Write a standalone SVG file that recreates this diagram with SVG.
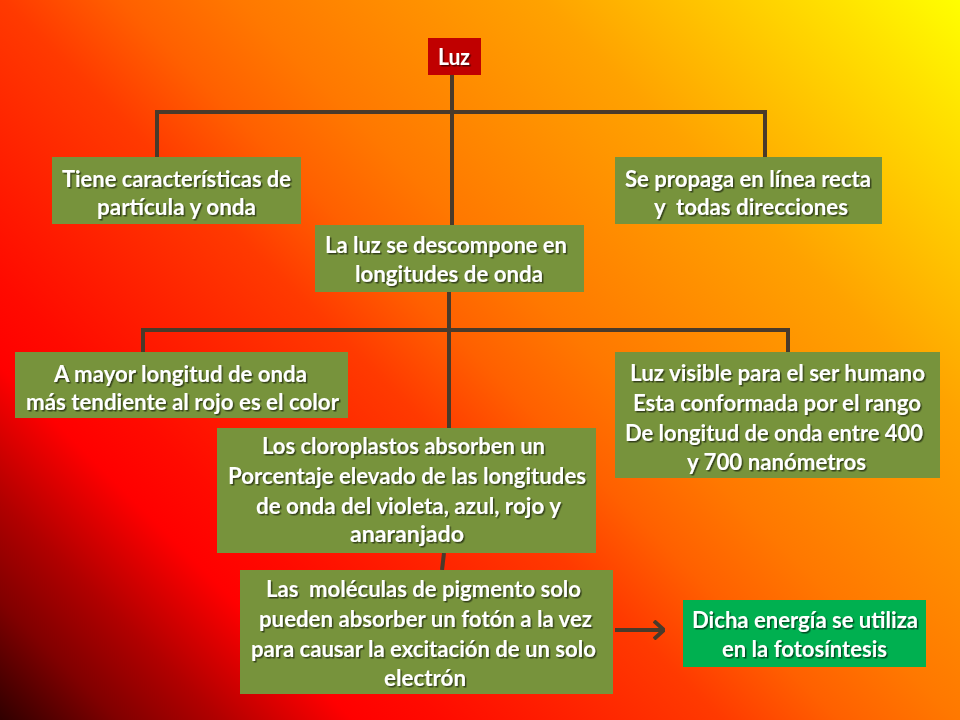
<svg xmlns="http://www.w3.org/2000/svg" width="960" height="720" viewBox="0 0 960 720">
<defs>
<linearGradient id="bg" gradientUnits="userSpaceOnUse" x1="0" y1="720" x2="840" y2="-120">
<stop offset="0" stop-color="#300000"/>
<stop offset="0.07" stop-color="#800000"/>
<stop offset="0.13" stop-color="#b00000"/>
<stop offset="0.21" stop-color="#ff0000"/>
<stop offset="0.26" stop-color="#ff0a00"/>
<stop offset="0.43" stop-color="#ff3a00"/>
<stop offset="0.5" stop-color="#ff6000"/>
<stop offset="0.57" stop-color="#ff7800"/>
<stop offset="0.75" stop-color="#ffa200"/>
<stop offset="0.92" stop-color="#ffe000"/>
<stop offset="1" stop-color="#ffff00"/>
</linearGradient>
<filter id="sh" x="-5%" y="-20%" width="110%" height="140%">
<feDropShadow dx="1.5" dy="1.5" stdDeviation="0.7" flood-color="#000" flood-opacity="0.55"/>
</filter>
<marker id="arr" viewBox="0 0 12 20" refX="11" refY="10" markerWidth="12" markerHeight="20" markerUnits="userSpaceOnUse" orient="auto">
<path d="M1,1 L11,10 L1,19" fill="none" stroke="#4a3a2a" stroke-width="4" stroke-linejoin="miter"/>
</marker>
</defs>
<style>
.box{fill:#77933c}
.t{font-family:"Lato","Liberation Sans",sans-serif;font-weight:bold;font-size:23.5px;fill:#fff;text-anchor:middle;filter:url(#sh);white-space:pre}
.c{fill:none;stroke:#4a3a2a;stroke-width:4}
</style>
<rect width="960" height="720" fill="url(#bg)"/>
<g id="connectors">
<path class="c" d="M452,75 V226"/>
<path class="c" d="M157,157 V112 H765 V157"/>
<path class="c" d="M449,292 V428"/>
<path class="c" d="M143,352 V330 H788 V352"/>
<path class="c" d="M444,553 L442,570"/>
<path class="c" d="M615,630 H664" marker-end="url(#arr)"/>
</g>
<g id="luz">
<rect x="428" y="38" width="53" height="37" fill="#c00000"/>
<text class="t" x="454" y="65" textLength="32" lengthAdjust="spacingAndGlyphs">Luz</text>
</g>
<g id="n1">
<rect class="box" x="52" y="157" width="249" height="67"/>
<text class="t" x="176.5" y="187" textLength="229" lengthAdjust="spacingAndGlyphs">Tiene características de</text>
<text class="t" x="176.5" y="215" textLength="159" lengthAdjust="spacingAndGlyphs">partícula y onda</text>
</g>
<g id="n2">
<rect class="box" x="615" y="157" width="267" height="67"/>
<text class="t" x="748" y="187" textLength="246" lengthAdjust="spacingAndGlyphs">Se propaga en línea recta</text>
<text class="t" x="751" y="215" textLength="194" lengthAdjust="spacingAndGlyphs" xml:space="preserve">y  todas direcciones</text>
</g>
<g id="n3">
<rect class="box" x="315" y="225" width="269" height="67"/>
<text class="t" x="446" y="253" textLength="242" lengthAdjust="spacingAndGlyphs">La luz se descompone en</text>
<text class="t" x="449" y="282" textLength="188" lengthAdjust="spacingAndGlyphs">longitudes de onda</text>
</g>
<g id="n4">
<rect class="box" x="15" y="352" width="333" height="66"/>
<text class="t" x="180.5" y="382" textLength="253" lengthAdjust="spacingAndGlyphs">A mayor longitud de onda</text>
<text class="t" x="182.5" y="410" textLength="313" lengthAdjust="spacingAndGlyphs">más tendiente al rojo es el color</text>
</g>
<g id="n5">
<rect class="box" x="615" y="352" width="325" height="126"/>
<text class="t" x="777.5" y="381" textLength="295" lengthAdjust="spacingAndGlyphs">Luz visible para el ser humano</text>
<text class="t" x="777" y="411" textLength="288" lengthAdjust="spacingAndGlyphs">Esta conformada por el rango</text>
<text class="t" x="774" y="441" textLength="298" lengthAdjust="spacingAndGlyphs">De longitud de onda entre 400</text>
<text class="t" x="776.5" y="470" textLength="179" lengthAdjust="spacingAndGlyphs">y 700 nanómetros</text>
</g>
<g id="n6">
<rect class="box" x="217" y="428" width="379" height="125"/>
<text class="t" x="403.5" y="454" textLength="283" lengthAdjust="spacingAndGlyphs">Los cloroplastos absorben un</text>
<text class="t" x="407" y="484" textLength="358" lengthAdjust="spacingAndGlyphs">Porcentaje elevado de las longitudes</text>
<text class="t" x="408.5" y="514" textLength="305" lengthAdjust="spacingAndGlyphs">de onda del violeta, azul, rojo y</text>
<text class="t" x="407" y="542" textLength="114" lengthAdjust="spacingAndGlyphs">anaranjado</text>
</g>
<g id="n7">
<rect class="box" x="240" y="570" width="373" height="124"/>
<text class="t" x="423.5" y="597" textLength="315" lengthAdjust="spacingAndGlyphs" xml:space="preserve">Las  moléculas de pigmento solo</text>
<text class="t" x="425.5" y="627" textLength="333" lengthAdjust="spacingAndGlyphs">pueden absorber un fotón a la vez</text>
<text class="t" x="423.5" y="657" textLength="345" lengthAdjust="spacingAndGlyphs">para causar la excitación de un solo</text>
<text class="t" x="425" y="686" textLength="82" lengthAdjust="spacingAndGlyphs">electrón</text>
</g>
<g id="n8">
<rect x="683" y="600" width="243" height="67" fill="#00b050"/>
<text class="t" x="805" y="628" textLength="226" lengthAdjust="spacingAndGlyphs">Dicha energía se utiliza</text>
<text class="t" x="804.5" y="657" textLength="165" lengthAdjust="spacingAndGlyphs">en la fotosíntesis</text>
</g>
</svg>
